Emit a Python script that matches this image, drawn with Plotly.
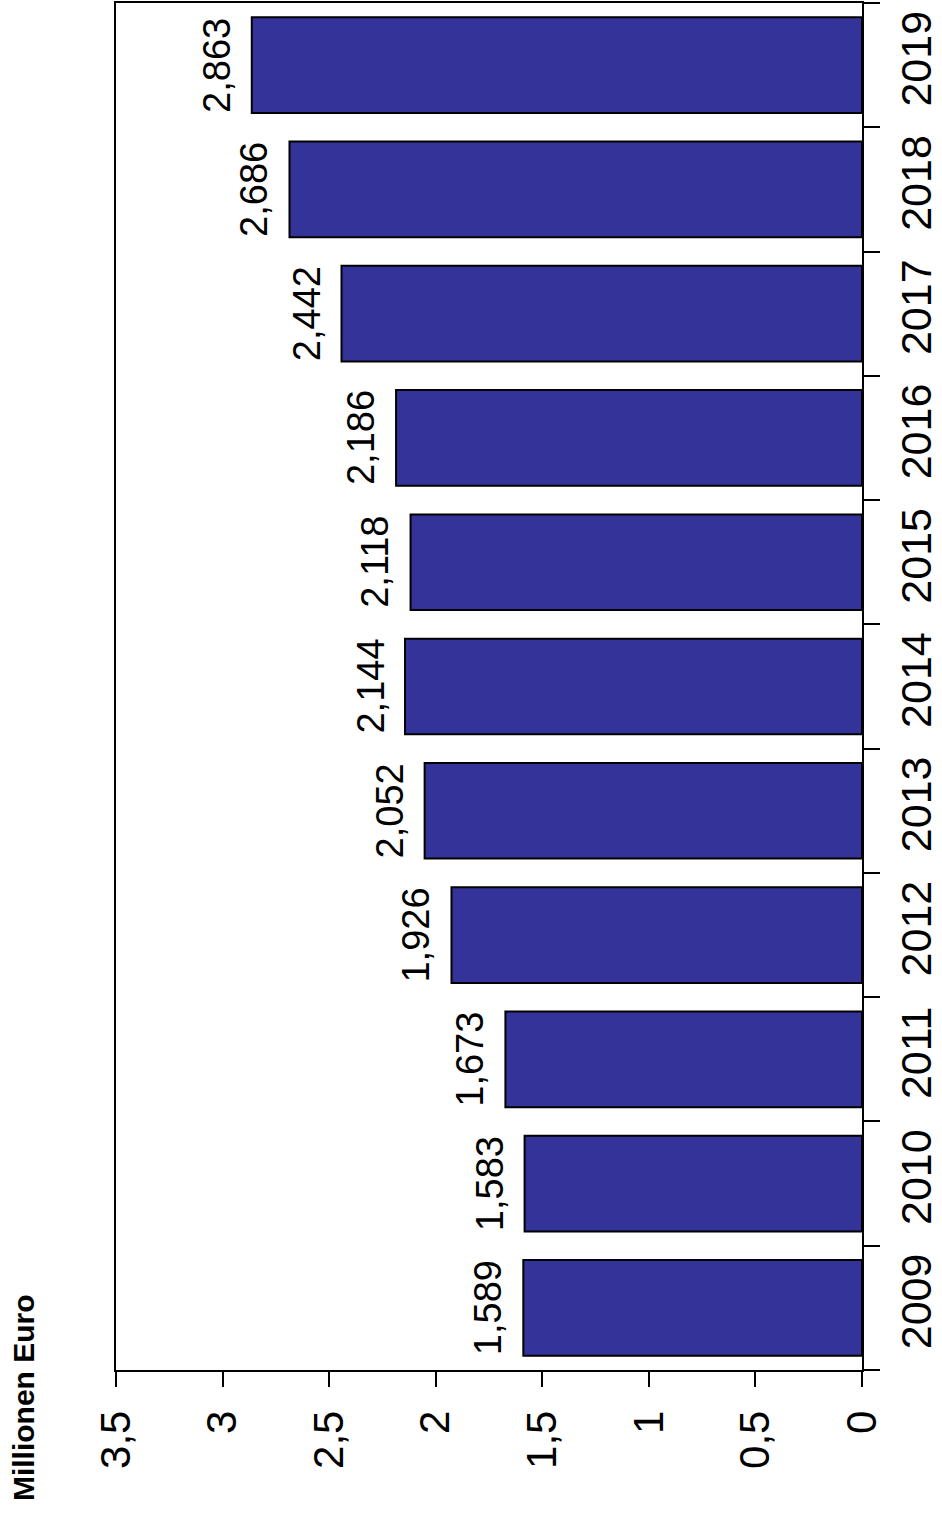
import plotly.graph_objects as go

years = ["2009", "2010", "2011", "2012", "2013", "2014", "2015", "2016", "2017", "2018", "2019"]
values = [1.589, 1.583, 1.673, 1.926, 2.052, 2.144, 2.118, 2.186, 2.442, 2.686, 2.863]
value_labels = ["1,589", "1,583", "1,673", "1,926", "2,052", "2,144", "2,118", "2,186", "2,442", "2,686", "2,863"]
x_ticks = [0, 0.5, 1, 1.5, 2, 2.5, 3, 3.5]
x_ticktext = ["0", "0,5", "1", "1,5", "2", "2,5", "3", "3,5"]

FONT = "Liberation Sans, Arial, sans-serif"

fig = go.Figure(go.Bar(
    x=values, y=years, orientation="h",
    marker=dict(color="#333399", line=dict(color="black", width=2)),
    width=0.77,
))

# annotations on a category axis use the category index as position
annotations = [
    dict(x=v, y=i, xref="x", yref="y", text=lab, textangle=-90,
         xanchor="right", yanchor="middle", xshift=-12, showarrow=False,
         font=dict(family=FONT, size=38, color="black"))
    for i, (v, lab) in enumerate(zip(values, value_labels))
]
annotations.append(dict(
    text="<b>Millionen Euro</b>", textangle=-90,
    xref="paper", yref="paper", x=-0.1247, y=-0.0198,
    xanchor="center", yanchor="middle", showarrow=False,
    font=dict(family=FONT, size=30, color="black"),
))

fig.update_layout(
    width=942, height=1521,
    margin=dict(l=116, r=80, t=3, b=151),
    plot_bgcolor="white", paper_bgcolor="white",
    showlegend=False,
    separators=", ",
    xaxis=dict(
        range=[3.5, 0], tickvals=x_ticks, ticktext=x_ticktext,
        ticks="outside", ticklen=15, tickwidth=1.5, tickcolor="black",
        ticklabelstandoff=7, automargin=False,
        showline=True, linecolor="black", linewidth=1.5, mirror=True,
        showgrid=False, zeroline=False, tickangle=-90,
        tickfont=dict(family=FONT, size=42, color="black"),
    ),
    yaxis=dict(
        side="right", type="category", range=[-0.5, len(years) - 0.5],
        ticks="outside", ticklen=16, tickwidth=1.5, tickcolor="black",
        tickson="boundaries", ticklabelstandoff=16, automargin=False,
        showline=True, linecolor="black", linewidth=1.5, mirror=True,
        showgrid=False, zeroline=False, tickangle=-90,
        tickfont=dict(family=FONT, size=43, color="black"),
    ),
    annotations=annotations,
)

fig.write_html("out.html")
